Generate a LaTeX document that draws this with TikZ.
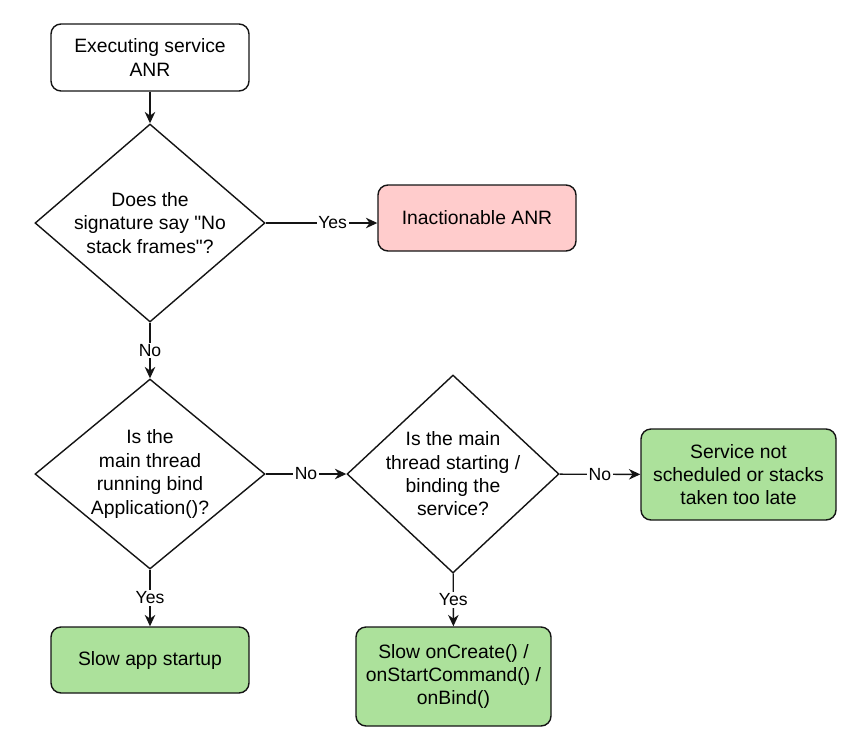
\documentclass[tikz,border=0pt]{standalone}
\usepackage{fontspec}
\setmainfont{Liberation Sans}[Ligatures=TeXOff]
\usetikzlibrary{shapes.geometric, arrows.meta, positioning}
\definecolor{boxpink}{RGB}{255, 204, 204}
\definecolor{boxgreen}{RGB}{172, 225, 155}
\definecolor{inkblack}{RGB}{20, 20, 20}

\begin{document}
\begin{tikzpicture}[>={Stealth[length=6.5pt, width=6pt]}, line width=0.8pt, draw=inkblack,
    every node/.style={font=\fontsize{11}{13.3}\selectfont},
    stepbox/.style={draw=inkblack, rounded corners=0.2cm, align=center, inner sep=0pt},
    decision/.style={draw=inkblack, diamond, align=center, inner sep=-0.4cm},
    edgelabel/.style={fill=white, inner sep=1pt, font=\fontsize{10}{12}\selectfont}]
    \useasboundingbox (0,0) rectangle (17.2,-14.68);

    % main column
    \node[stepbox, minimum width=3.96cm, minimum height=1.34cm] (start) at (3.0,-1.15)
        {Executing service\\ANR};
    \node[decision, minimum width=4.6cm, minimum height=3.96cm] (sig) at (3.0,-4.46)
        {Does the\\signature say "No\\stack frames"?};
    \node[stepbox, fill=boxpink, minimum width=3.96cm, minimum height=1.32cm] (inact) at (9.54,-4.36)
        {Inactionable ANR};
    \node[decision, minimum width=4.6cm, minimum height=3.8cm] (bindapp) at (3.0,-9.48)
        {Is the\\main thread\\running bind\\Application()?};
    \node[stepbox, fill=boxgreen, minimum width=3.96cm, minimum height=1.32cm] (startup) at (3.0,-13.2)
        {Slow app startup};

    % service column
    \node[decision, minimum width=4.24cm, minimum height=3.96cm] (bindsvc) at (9.06,-9.48)
        {Is the main\\thread starting /\\binding the\\service?};
    \node[stepbox, fill=boxgreen, minimum width=3.9cm, minimum height=1.98cm] (oncreate) at (9.07,-13.53)
        {Slow onCreate() /\\onStartCommand() /\\onBind()};
    \node[stepbox, fill=boxgreen, minimum width=3.9cm, minimum height=1.82cm] (late) at (14.77,-9.49)
        {Service not\\scheduled or stacks\\taken too late};

    \draw[->] (start) -- (sig);
    \draw[->] (sig.east) -- node[edgelabel, pos=0.6] {Yes} (sig.east -| inact.west);
    \draw[->] (sig) -- node[edgelabel] {No} (bindapp);
    \draw[->] (bindapp) -- node[edgelabel] {Yes} (startup);
    \draw[->] (bindapp) -- node[edgelabel] {No} (bindsvc);
    \draw[->] (bindsvc) -- node[edgelabel] {Yes} (oncreate);
    \draw[->] (bindsvc) -- node[edgelabel] {No} (late);
\end{tikzpicture}
\end{document}
